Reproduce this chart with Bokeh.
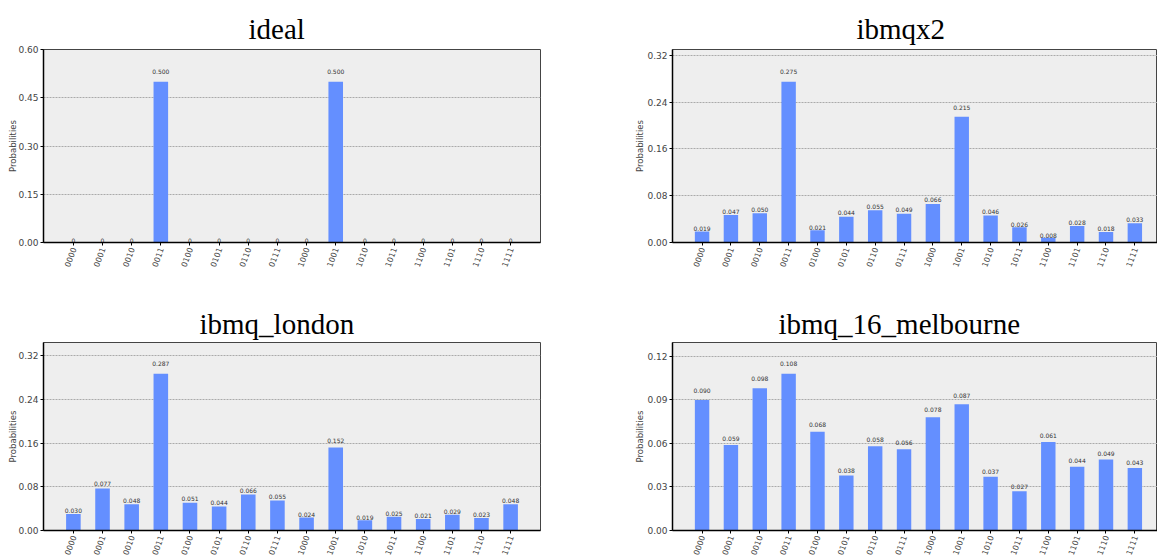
import math
from bokeh.plotting import figure
from bokeh.models import Range1d, FixedTicker, NumeralTickFormatter, ColumnDataSource
from bokeh.layouts import column, row
from bokeh.embed import file_html
from bokeh.resources import INLINE
from bokeh.core.properties import value

states = ["0000", "0001", "0010", "0011", "0100", "0101", "0110", "0111",
          "1000", "1001", "1010", "1011", "1100", "1101", "1110", "1111"]

ideal = [0, 0, 0, 0.500, 0, 0, 0, 0, 0, 0.500, 0, 0, 0, 0, 0, 0]
ibmqx2 = [0.019, 0.047, 0.050, 0.275, 0.021, 0.044, 0.055, 0.049,
          0.066, 0.215, 0.046, 0.026, 0.008, 0.028, 0.018, 0.033]
ibmq_london = [0.030, 0.077, 0.048, 0.287, 0.051, 0.044, 0.066, 0.055,
               0.024, 0.152, 0.019, 0.025, 0.021, 0.029, 0.023, 0.048]
ibmq_16_melbourne = [0.090, 0.059, 0.098, 0.108, 0.068, 0.038, 0.058, 0.056,
                     0.078, 0.087, 0.037, 0.027, 0.061, 0.044, 0.049, 0.043]

ideal_ticks = [0.00, 0.15, 0.30, 0.45, 0.60]
ibmqx2_ticks = [0.00, 0.08, 0.16, 0.24, 0.32]
london_ticks = [0.00, 0.08, 0.16, 0.24, 0.32]
melbourne_ticks = [0.00, 0.03, 0.06, 0.09, 0.12]

BAR = "#648fff"
BG = "#eeeeee"
TITLE_FONT = "'Liberation Serif', 'DejaVu Serif', serif"


def panel(title, vals, ticks, width, height, bl, br, bt, bb, x_end, title_offset, standoff, ylab_standoff):
    xs = list(range(len(states)))
    labels = ["0" if v == 0 else f"{v:.3f}" for v in vals]
    src = ColumnDataSource(dict(x=xs, top=vals, ly=[1.05 * v for v in vals], lab=labels))
    p = figure(width=width, height=height, output_backend="svg", toolbar_location=None,
               x_range=Range1d(-1.025, x_end), y_range=Range1d(0, 1.2 * max(vals)),
               min_border_left=bl, min_border_right=br, min_border_top=bt, min_border_bottom=bb,
               background_fill_color=BG, border_fill_color="white")
    p.vbar(x="x", top="top", width=0.5, source=src, fill_color=BAR, line_color=None)
    p.text(x="x", y="ly", text="lab", source=src, text_align="center", text_baseline="bottom",
           text_font_size="6px", text_color="#333333", text_font=value("DejaVu Sans"))

    p.title.text = title
    p.title.align = "left"
    p.title.text_font = TITLE_FONT
    p.title.text_font_style = "normal"
    p.title.text_font_size = "29px"
    p.title.text_color = "black"
    p.title.offset = title_offset
    p.title.standoff = standoff

    p.outline_line_color = "#444444"
    p.outline_line_width = 1

    p.xgrid.visible = False
    p.ygrid.ticker = FixedTicker(ticks=ticks)
    p.ygrid.grid_line_color = "#aaaaaa"
    p.ygrid.grid_line_dash = "2 1"
    p.ygrid.grid_line_width = 1

    p.yaxis.ticker = FixedTicker(ticks=ticks)
    p.yaxis.formatter = NumeralTickFormatter(format="0.00")
    p.yaxis.axis_label = "Probabilities"
    p.yaxis.axis_label_text_font = "DejaVu Sans"
    p.yaxis.axis_label_text_font_style = "normal"
    p.yaxis.axis_label_text_font_size = "8.5px"
    p.yaxis.axis_label_standoff = ylab_standoff
    p.yaxis.major_label_text_font = "DejaVu Sans"
    p.yaxis.major_label_text_font_size = "9px"
    p.yaxis.major_label_standoff = 2
    p.yaxis.major_tick_out = 3
    p.yaxis.major_tick_in = 0
    p.yaxis.minor_tick_line_color = None
    p.yaxis.axis_line_color = "black"
    p.yaxis.axis_line_width = 1.5

    p.xaxis.ticker = FixedTicker(ticks=xs)
    p.xaxis.major_label_overrides = {i: s for i, s in zip(xs, states)}
    p.xaxis.major_label_orientation = math.radians(70)
    p.xaxis.major_label_text_font = "DejaVu Sans"
    p.xaxis.major_label_text_font_size = "8px"
    p.xaxis.major_label_standoff = 2
    p.xaxis.major_tick_out = 3
    p.xaxis.major_tick_in = 0
    p.xaxis.minor_tick_line_color = None
    p.xaxis.axis_line_color = "black"
    p.xaxis.axis_line_width = 1.5
    return p


p1 = panel("ideal", ideal, ideal_ticks, 632, 300, 43, 92, 49, 58, 16.025, 205, 9, -3)
p2 = panel("ibmqx2", ibmqx2, ibmqx2_ticks, 525, 300, 35, 0, 49, 58, 15.785, 184, 9, -1)
p3 = panel("ibmq_london", ibmq_london, london_ticks, 632, 260, 43, 92, 42, 25, 16.025, 156, 6, -3)
p4 = panel("ibmq_16_melbourne", ibmq_16_melbourne, melbourne_ticks, 525, 260, 35, 0, 42, 25, 15.785, 106, 6, -1)

layout = column(row(p1, p2), row(p3, p4))
open("out.html", "w").write(file_html(layout, INLINE))
